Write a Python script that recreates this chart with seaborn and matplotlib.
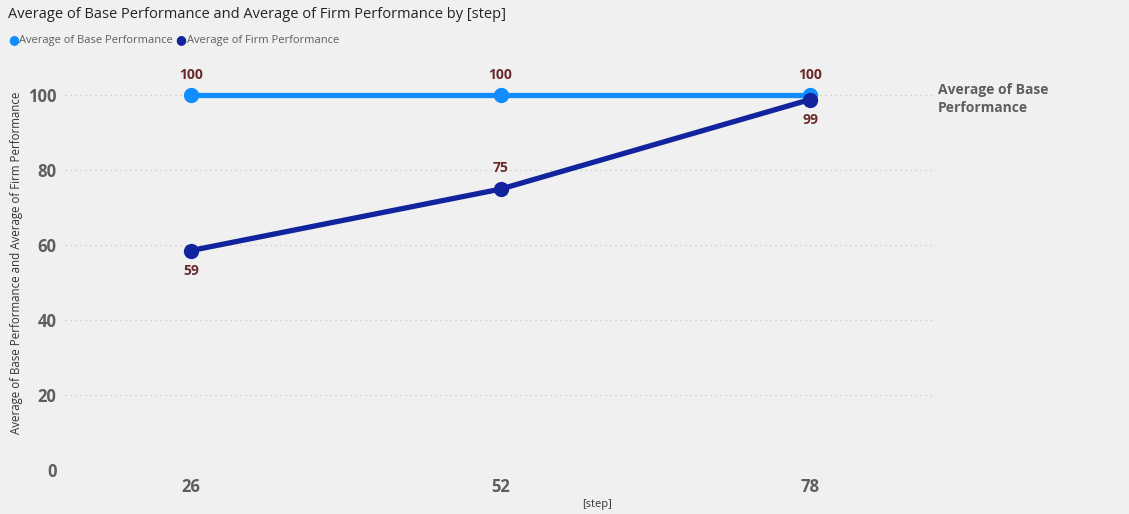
import matplotlib
matplotlib.use("Agg")
import matplotlib.pyplot as plt
import seaborn as sns
import pandas as pd

steps = [26, 52, 78]
base_perf = [100, 100, 100]
firm_perf = [58.6, 75, 98.9]
series_names = ["Average of Base Performance", "Average of Firm Performance"]
y_ticks = [0, 20, 40, 60, 80, 100]

colors = {series_names[0]: "#118DFF", series_names[1]: "#12239E"}
label_color = "#6B2B2B"
text_gray = "#605E5C"
bg = "#F0F0F0"

df = pd.DataFrame({
    "step": steps * 2,
    "value": base_perf + firm_perf,
    "series": [series_names[0]] * 3 + [series_names[1]] * 3,
})

sns.set_theme(style="white")
plt.rcParams["font.family"] = ["Open Sans", "DejaVu Sans"]

fig = plt.figure(figsize=(11.29, 5.14), dpi=100)
fig.patch.set_facecolor(bg)
W, H = 1129, 514
left, right, bottom, top = 65, 935, 470, 58
ax = fig.add_axes([left / W, 1 - bottom / H, (right - left) / W, (bottom - top) / H])
ax.set_facecolor(bg)

sns.lineplot(data=df, x="step", y="value", hue="series", palette=colors,
             linewidth=3.8, marker="o", markersize=11, markeredgewidth=0,
             legend=False, ax=ax)

ax.set_xlim(15.4, 88.5)
ax.set_ylim(0, 110)
ax.set_xticks(steps)
ax.set_yticks(y_ticks)
ax.set_xticklabels([str(s) for s in steps], fontsize=12, fontweight="bold", color=text_gray)
ax.set_yticklabels([str(v) for v in y_ticks], fontsize=12, fontweight="bold", color=text_gray)
ax.tick_params(axis="x", length=0, pad=6)
ax.tick_params(axis="y", length=0, pad=6)
for s in ax.spines.values():
    s.set_visible(False)
ax.grid(axis="y", linestyle=(0, (1, 3)), color="#C8C8C8", linewidth=0.9)
ax.grid(axis="x", visible=False)
ax.set_axisbelow(True)
ax.set_xlabel("")
ax.set_ylabel("")

fig.text(597 / W, 1 - 505 / H, "[step]", fontsize=8, color="#333333", ha="center", va="center")
fig.text(17 / W, 1 - 263 / H, "Average of Base Performance and Average of Firm Performance",
         fontsize=8.3, color="#333333", rotation=90, ha="center", va="center")

# data labels: base above, firm below (except the middle point)
for x, v in zip(steps, base_perf):
    ax.annotate(f"{v:.0f}", (x, v), xytext=(0, 10), textcoords="offset points",
                ha="center", va="bottom", fontsize=10, fontweight="bold", color=label_color)
firm_offsets = [-10, 10, -10]
for x, v, off in zip(steps, firm_perf, firm_offsets):
    ax.annotate(f"{v:.0f}", (x, v), xytext=(0, off), textcoords="offset points",
                ha="center", va="top" if off < 0 else "bottom",
                fontsize=10, fontweight="bold", color=label_color)

# series name at the right end of the base line
fig.text(938 / W, 1 - 99 / H, "Average of Base\nPerformance", fontsize=10,
         fontweight="bold", color=text_gray, va="center", ha="left", linespacing=1.3)

# title and legend
fig.text(8 / W, 1 - 15 / H, "Average of Base Performance and Average of Firm Performance by [step]",
         fontsize=10.5, color="#252423", va="center", ha="left")
lx = 8
for name in series_names:
    fig.text(lx / W, 1 - 40 / H, "\u25CF", fontsize=9, color=colors[name], va="center", ha="left")
    t = fig.text((lx + 11) / W, 1 - 40 / H, name, fontsize=8, color=text_gray, va="center", ha="left")
    fig.canvas.draw()
    bb = t.get_window_extent()
    lx = bb.x1 + 3

fig.savefig("out.png", dpi=100, facecolor=bg)
